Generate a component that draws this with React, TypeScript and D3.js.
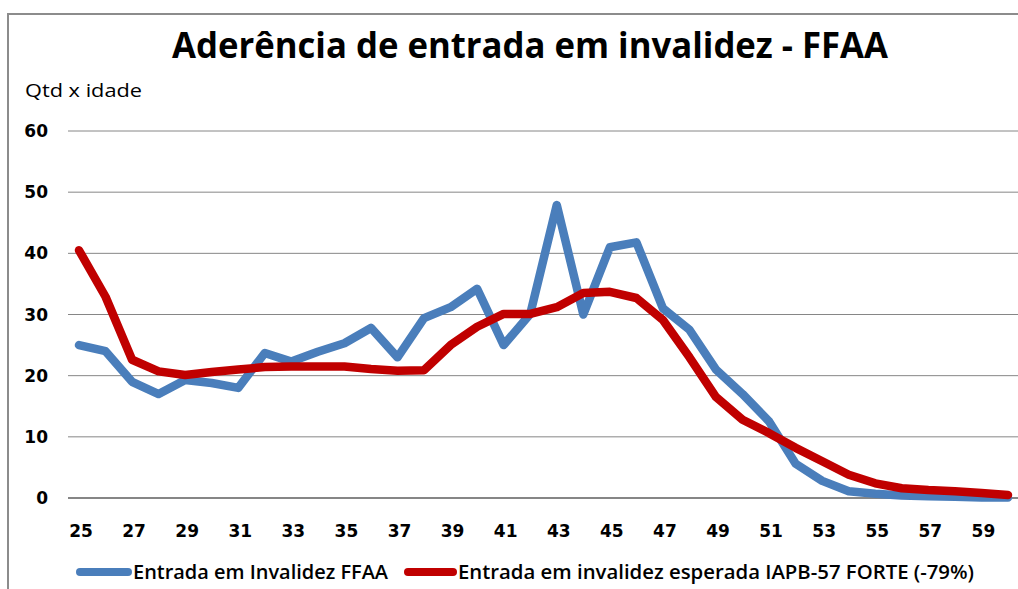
import React from "react";
import * as d3 from "d3";

// ages on the category axis
const ages = d3.range(25, 61);
const ageLabels = ages.filter((a) => a % 2 === 1);

// observed disability entries (FFAA)
const observed = [
  25, 24, 19, 17, 19.3, 18.8, 18, 23.7, 22.3, 23.9, 25.3, 27.8, 23, 29.4, 31.2,
  34.2, 25, 30.1, 47.9, 30, 41, 41.8, 31, 27.5, 21, 17, 12.5, 5.6, 2.8, 1.1,
  0.7, 0.4, 0.3, 0.2, 0.1, 0.1,
];

// expected entries IAPB-57 FORTE (-79%)
const expected = [
  40.5, 32.9, 22.6, 20.7, 20.1, 20.6, 21, 21.4, 21.5, 21.5, 21.5, 21.1, 20.8,
  20.9, 25, 28, 30.1, 30.1, 31.2, 33.5, 33.7, 32.7, 29.1, 23, 16.5, 12.8, 10.6,
  8.2, 6, 3.8, 2.4, 1.6, 1.3, 1.1, 0.8, 0.5,
];

const yTicks = [0, 10, 20, 30, 40, 50, 60];

const seriesNames = [
  "Entrada em Invalidez FFAA",
  "Entrada em invalidez esperada IAPB-57 FORTE (-79%)",
];
const colors = ["#4A7EBB", "#C00000"];

const W = 1018;
const H = 589;

export default function App() {
  const x = d3.scalePoint<number>().domain(ages).range([79, 1008]);
  const y = d3.scaleLinear().domain([0, 60]).range([498, 131]);

  // both series are plain polylines with round joins
  const line = d3
    .line<number>()
    .x((d, i) => x(ages[i]) as number)
    .y((d) => y(d));

  const sans = "'Open Sans', 'DejaVu Sans', sans-serif";
  const tickFont = "'DejaVu Sans', sans-serif";

  return (
    <svg
      width={W}
      height={H}
      style={{ position: "absolute", left: 0, top: 0, background: "#fff" }}
    >
      {/* frame */}
      <path d={`M8,${H} V14 H${W}`} fill="none" stroke="#8c8c8c" strokeWidth={2} />

      {/* title */}
      <text
        x={172}
        y={58}
        fontFamily={sans}
        fontWeight="bold"
        fontSize={35}
        textLength={716}
        lengthAdjust="spacingAndGlyphs"
        fill="#000"
      >
        Aderência de entrada em invalidez - FFAA
      </text>

      <text
        x={25}
        y={97}
        fontFamily={sans}
        fontSize={19}
        textLength={117}
        lengthAdjust="spacingAndGlyphs"
        fill="#000"
      >
        Qtd x idade
      </text>

      {/* gridlines and y labels */}
      {yTicks.map((t) => (
        <g key={t}>
          <line
            x1={68}
            x2={W}
            y1={y(t)}
            y2={y(t)}
            stroke="#868686"
            strokeWidth={t === 0 ? 2 : 1}
          />
          <text
            x={48}
            y={y(t)}
            dy="0.36em"
            textAnchor="end"
            fontFamily={tickFont}
            fontWeight="bold"
            fontSize={17}
            fill="#000"
          >
            {t}
          </text>
        </g>
      ))}

      {/* x labels */}
      {ageLabels.map((a) => (
        <text
          key={a}
          x={(x(a) as number) + 2}
          y={537}
          textAnchor="middle"
          fontFamily={tickFont}
          fontWeight="bold"
          fontSize={17}
          fill="#000"
        >
          {a}
        </text>
      ))}

      {/* series */}
      <path
        d={line(observed) || ""}
        fill="none"
        stroke={colors[0]}
        strokeWidth={8.5}
        strokeLinejoin="round"
        strokeLinecap="round"
      />
      <path
        d={line(expected) || ""}
        fill="none"
        stroke={colors[1]}
        strokeWidth={8.5}
        strokeLinejoin="round"
        strokeLinecap="round"
      />

      {/* legend */}
      <line x1={80} x2={128} y1={572} y2={572} stroke={colors[0]} strokeWidth={8} strokeLinecap="round" />
      <text
        x={133}
        y={579}
        fontFamily={sans}
        fontWeight={600}
        fontSize={20}
        textLength={255}
        lengthAdjust="spacingAndGlyphs"
        fill="#000"
      >
        {seriesNames[0]}
      </text>
      <line x1={408} x2={453} y1={572} y2={572} stroke={colors[1]} strokeWidth={8} strokeLinecap="round" />
      <text
        x={458}
        y={579}
        fontFamily={sans}
        fontWeight={600}
        fontSize={20}
        textLength={516}
        lengthAdjust="spacingAndGlyphs"
        fill="#000"
      >
        {seriesNames[1]}
      </text>
    </svg>
  );
}
